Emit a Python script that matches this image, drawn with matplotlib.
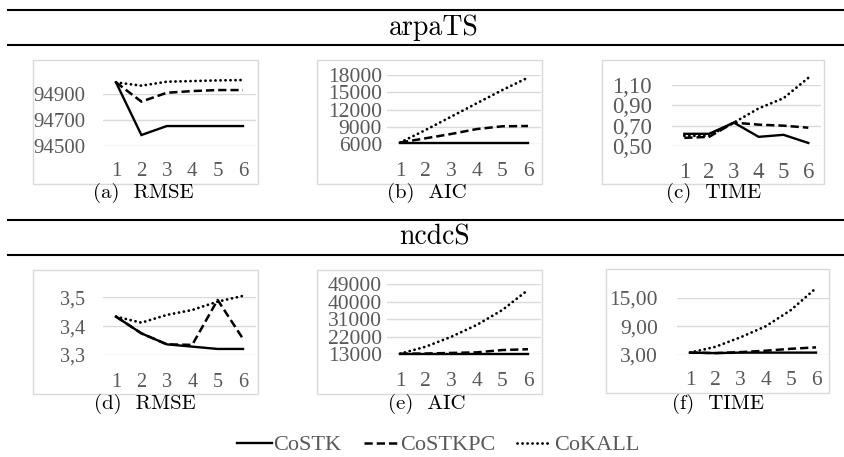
import matplotlib
matplotlib.use("Agg")
import matplotlib.pyplot as plt
from matplotlib.lines import Line2D
from matplotlib.patches import Rectangle

# ---------------- data ----------------
iterations = [1, 2, 3, 4, 5, 6]
series_names = ["CoSTK", "CoSTKPC", "CoKALL"]

a_costk = [94993, 94583, 94653, 94653, 94653, 94653]
a_costkpc = [94993, 94843, 94912, 94925, 94933, 94933]
a_cokall = [94993, 94967, 94998, 95003, 95008, 95011]
a_ticks = [94500, 94700, 94900]
a_labels = ["94500", "94700", "94900"]

b_costk = [6300, 6300, 6300, 6300, 6300, 6300]
b_costkpc = [6300, 7040, 7790, 8640, 9120, 9170]
b_cokall = [6300, 8480, 10790, 13110, 15400, 17550]
b_ticks = [6000, 9000, 12000, 15000, 18000]
b_labels = ["6000", "9000", "12000", "15000", "18000"]

c_costk = [0.62, 0.62, 0.73, 0.59, 0.61, 0.53]
c_costkpc = [0.58, 0.59, 0.73, 0.71, 0.70, 0.68]
c_cokall = [0.60, 0.60, 0.73, 0.87, 0.97, 1.17]
c_ticks = [0.5, 0.7, 0.9, 1.1]
c_labels = ["0,50", "0,70", "0,90", "1,10"]

d_costk = [3.433, 3.375, 3.337, 3.329, 3.321, 3.321]
d_costkpc = [3.433, 3.375, 3.337, 3.335, 3.491, 3.356]
d_cokall = [3.433, 3.412, 3.439, 3.456, 3.485, 3.505]
d_ticks = [3.3, 3.4, 3.5]
d_labels = ["3,3", "3,4", "3,5"]

e_costk = [13300, 13300, 13300, 13300, 13300, 13300]
e_costkpc = [13300, 13400, 13700, 14000, 15200, 15600]
e_cokall = [13300, 16900, 22000, 28100, 35800, 46100]
e_ticks = [13000, 22000, 31000, 40000, 49000]
e_labels = ["13000", "22000", "31000", "40000", "49000"]

f_costk = [3.5, 3.4, 3.5, 3.5, 3.5, 3.5]
f_costkpc = [3.5, 3.4, 3.6, 3.9, 4.3, 4.6]
f_cokall = [3.5, 4.7, 6.7, 9.0, 12.4, 17.0]
f_ticks = [3, 9, 15]
f_labels = ["3,00", "9,00", "15,00"]

captions = ["(a)  RMSE", "(b)  AIC", "(c)  TIME", "(d)  RMSE", "(e)  AIC", "(f)  TIME"]
headers = ["arpaTS", "ncdcS"]

# ---------------- layout (pixels) ----------------
W, H = 844, 457
fig = plt.figure(figsize=(W / 100, H / 100), dpi=100)

def fx(x):
    return x / W

def fy(y):
    return 1 - y / H

GRAY = "#595959"
LIGHT = "#d9d9d9"
TICKFONT = "Liberation Serif"
CMFONT = "cmr10"

styles = [
    dict(ls="-", lw=1.7),
    dict(ls=(0, (3.3, 1.6)), lw=1.8),
    dict(ls=(0, (0.05, 1.75)), lw=2.0, dash_capstyle="round"),
]

panels = [
    # series, ticks, labels, plot px (left, top, right, bottom), frame px, ylabel right px, xlabel center y, fontsize, caption pos
    ((a_costk, a_costkpc, a_cokall), a_ticks, a_labels, (103.3, 94.3, 255.7, 145.7), (33, 60, 258, 184), 85, 169.5, 15.0, (143.5, 192.5)),
    ((b_costk, b_costkpc, b_cokall), b_ticks, b_labels, (387.2, 75.0, 540.8, 144.3), (317, 60, 542, 184), 382, 169.5, 15.5, (427, 192.5)),
    ((c_costk, c_costkpc, c_cokall), c_ticks, c_labels, (671.9, 85.0, 820.7, 146.0), (602, 60, 824, 184), 652, 169.5, 16.5, (714, 192.5)),
    ((d_costk, d_costkpc, d_cokall), d_ticks, d_labels, (103.3, 297.3, 255.7, 355.0), (33, 270, 258, 394), 85, 379.5, 14.5, (144.5, 404)),
    ((e_costk, e_costkpc, e_cokall), e_ticks, e_labels, (387.2, 284.3, 540.8, 354.3), (317, 270, 542, 394), 382, 379.5, 15.5, (426.5, 404)),
    ((f_costk, f_costkpc, f_cokall), f_ticks, f_labels, (677.4, 297.7, 828.6, 355.0), (606, 269, 829, 393), 658, 378.5, 15.5, (718.5, 404)),
]

for i, (series, ticks, labels, pbox, frame, ylab_r, xlab_y, fs, cap) in enumerate(panels):
    l, t, r, b = frame
    fig.add_artist(Rectangle((fx(l), fy(b)), fx(r - l), (b - t) / H,
                             transform=fig.transFigure, fill=False,
                             edgecolor=LIGHT, linewidth=1.0))
    pl, pt, pr, pb = pbox
    ax = fig.add_axes([fx(pl), fy(pb), fx(pr - pl), (pb - pt) / H])
    ax.set_facecolor("none")
    for sp in ax.spines.values():
        sp.set_visible(False)
    for vals, st in zip(series, styles):
        ax.plot(iterations, vals, color="black", clip_on=False,
                solid_joinstyle="miter", **st)
    ax.set_xlim(0.5, 6.5)
    ax.set_ylim(ticks[0], ticks[-1])
    ax.set_yticks(ticks)
    ax.set_yticklabels(labels)
    ax.set_xticks(iterations)
    ax.set_xticklabels([str(v) for v in iterations])
    ax.grid(axis="y", color=LIGHT, linewidth=1.0)
    ax.set_axisbelow(True)
    ypad = (pl - ylab_r) * 0.72
    xpad = (xlab_y - 0.34 * fs * 100 / 72 - pb) * 0.72
    ax.tick_params(axis="y", length=0, pad=ypad, labelsize=fs, labelcolor=GRAY)
    ax.tick_params(axis="x", length=0, pad=xpad, labelsize=fs, labelcolor=GRAY)
    for lab in ax.get_xticklabels() + ax.get_yticklabels():
        lab.set_fontfamily(TICKFONT)
    fig.text(fx(cap[0]), fy(cap[1]), captions[i], family=CMFONT, fontsize=15,
             ha="center", va="center", color="black")

# header rules and titles
for y0, y1, name, ty in [(10, 45, headers[0], 27.5), (220, 255, headers[1], 237.5)]:
    for yy in (y0, y1):
        fig.add_artist(Line2D([fx(8), fx(843)], [fy(yy), fy(yy)],
                              transform=fig.transFigure, color="black", linewidth=1.5))
    fig.text(fx(434), fy(ty), name, family=CMFONT, fontsize=20,
             ha="center", va="center", color="black")

# legend
handles = [Line2D([0], [0], color="black", **st) for st in styles]
leg = fig.legend(handles, series_names, loc="center",
                 bbox_to_anchor=(fx(438), fy(445)), ncol=3, frameon=False,
                 prop={"family": TICKFONT, "size": 16}, labelcolor=GRAY,
                 handlelength=1.55, handletextpad=0.08, columnspacing=1.0,
                 borderpad=0, borderaxespad=0)

fig.savefig("out.png", dpi=100)
